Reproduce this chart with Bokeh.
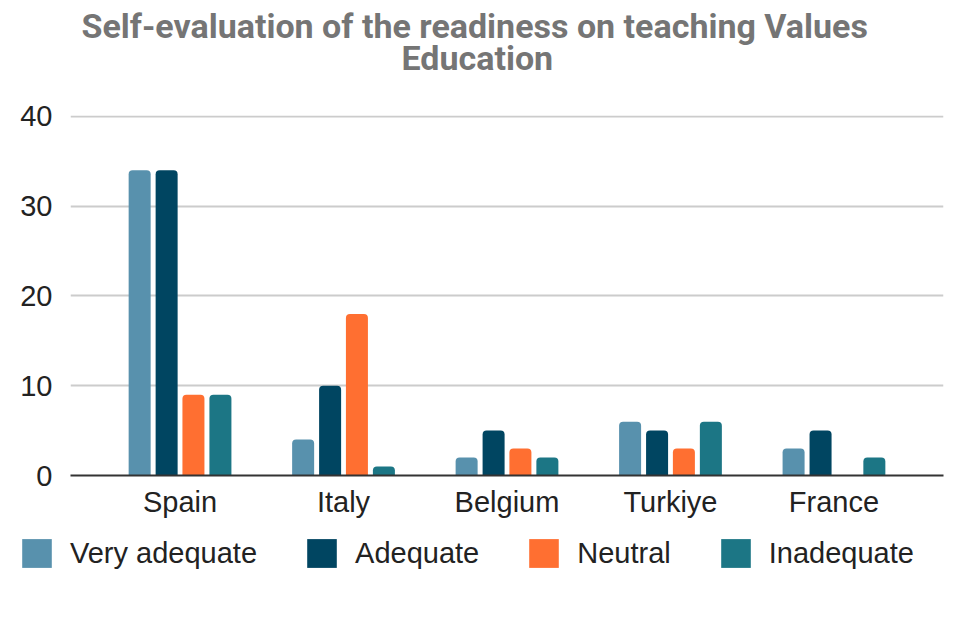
from bokeh.plotting import figure
from bokeh.models import FactorRange, Range1d, FixedTicker, Legend, LegendItem, Title
from bokeh.transform import dodge
from bokeh.embed import file_html
from bokeh.resources import INLINE

countries = ["Spain", "Italy", "Belgium", "Turkiye", "France"]
series_names = ["Very adequate", "Adequate", "Neutral", "Inadequate"]
very_adequate = [34, 4, 2, 6, 3]
adequate = [34, 10, 5, 5, 5]
neutral = [9, 18, 3, 3, 0]
inadequate = [9, 1, 2, 6, 2]
y_ticks = [0, 10, 20, 30, 40]
title_line1 = "Self-evaluation of the readiness on teaching Values"
title_line2 = "Education"

colors = ["#5891ad", "#004561", "#ff6f31", "#1c7685"]
series_values = [very_adequate, adequate, neutral, inadequate]
offsets = [-0.247, -0.082, 0.082, 0.247]

p = figure(width=955, height=525, x_range=FactorRange(factors=countries, range_padding=0.068),
           y_range=Range1d(0, 40.1), output_backend="svg", toolbar_location=None,
           min_border_left=70, min_border_right=12, min_border_top=115, min_border_bottom=50)
p.title = None
p.outline_line_color = None

data = dict(country=countries)
for name, vals in zip(series_names, series_values):
    data[name] = vals

for name, col, off in zip(series_names, colors, offsets):
    p.vbar(x=dodge("country", off, range=p.x_range), top=name, bottom=0, width=0.1346,
           source=data, fill_color=col, line_color=None, border_radius=(4, 4, 0, 0))

title_style = dict(text_font="Roboto", text_font_style="bold", text_font_size="34px",
                   text_color="#757575", align="left")
spacer = Title(text=" ", standoff=1, **title_style)
t2 = Title(text=title_line2, offset=331, standoff=0, **title_style)
t1 = Title(text=title_line1, offset=11, standoff=0, **title_style)
for t in (t1, t2):
    try:
        t.standoff = -10
    except Exception:
        pass
p.add_layout(spacer, "above")
p.add_layout(t2, "above")
p.add_layout(t1, "above")

p.xgrid.grid_line_color = None
p.ygrid.grid_line_color = "#cccccc"
p.ygrid.grid_line_width = 2
p.yaxis.ticker = FixedTicker(ticks=y_ticks)
p.yaxis.axis_line_color = None
p.yaxis.major_tick_line_color = None
p.yaxis.minor_tick_line_color = None
p.yaxis.major_label_text_font = "Liberation Sans"
p.yaxis.major_label_text_font_size = "29px"
p.yaxis.major_label_text_color = "#222222"
p.yaxis.major_label_standoff = 12

p.xaxis.axis_line_color = "#333333"
p.xaxis.axis_line_width = 2
p.xaxis.major_tick_line_color = None
p.xaxis.minor_tick_line_color = None
p.xaxis.major_label_text_font = "Liberation Sans"
p.xaxis.major_label_text_font_size = "29px"
p.xaxis.major_label_text_color = "#222222"
p.xaxis.major_label_standoff = 4

# legend strip below the chart (separate root so its frame spans the full width)
pl = figure(width=955, height=60, x_range=FactorRange(factors=countries), y_range=Range1d(0, 40),
            output_backend="svg", toolbar_location=None, x_axis_location=None,
            y_axis_location=None, min_border=0)
pl.title = None
pl.outline_line_color = None
pl.grid.visible = False
items = []
for name, col, off in zip(series_names, colors, offsets):
    r = pl.vbar(x=dodge("country", off, range=pl.x_range), top=name, bottom=0, width=0.1346,
                source=data, fill_color=col, line_color=None, border_radius=3, visible=False)
    items.append(LegendItem(label=name, renderers=[r]))

legend = Legend(items=items, orientation="horizontal", location=(18, 14),
                glyph_width=37, glyph_height=36, label_standoff=15, spacing=46,
                label_height=29,
                label_text_font="Liberation Sans", label_text_font_size="29px",
                label_text_color="#222222", border_line_color=None, background_fill_alpha=0,
                padding=0, margin=0)
pl.add_layout(legend, "center")

open("out.html", "w").write(file_html([p, pl], INLINE))
